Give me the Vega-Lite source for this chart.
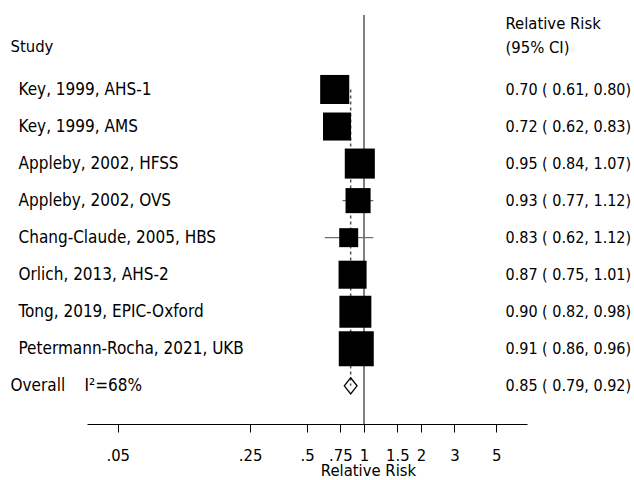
{
  "$schema": "https://vega.github.io/schema/vega-lite/v6.json",
  "width": 440,
  "height": 409,
  "autosize": {"type": "none"},
  "padding": {"left": 87, "top": 15, "right": 107, "bottom": 56},
  "background": "white",
  "config": {
    "view": {"stroke": null},
    "font": "DejaVu Sans Condensed",
    "axis": {
      "labelFont": "DejaVu Sans Condensed",
      "titleFont": "DejaVu Sans Condensed",
      "labelColor": "black",
      "titleColor": "black",
      "titleFontWeight": "normal",
      "grid": false
    }
  },
  "data": {
    "values": [
      {"study": "Key, 1999, AHS-1", "ci": "0.70 ( 0.61, 0.80)", "rr": 0.70, "lo": 0.61, "hi": 0.80, "weight": 12.9, "type": "study"},
      {"study": "Key, 1999, AMS", "ci": "0.72 ( 0.62, 0.83)", "rr": 0.72, "lo": 0.62, "hi": 0.83, "weight": 12.0, "type": "study"},
      {"study": "Appleby, 2002, HFSS", "ci": "0.95 ( 0.84, 1.07)", "rr": 0.95, "lo": 0.84, "hi": 1.07, "weight": 13.8, "type": "study"},
      {"study": "Appleby, 2002, OVS", "ci": "0.93 ( 0.77, 1.12)", "rr": 0.93, "lo": 0.77, "hi": 1.12, "weight": 9.6, "type": "study"},
      {"study": "Chang-Claude, 2005, HBS", "ci": "0.83 ( 0.62, 1.12)", "rr": 0.83, "lo": 0.62, "hi": 1.12, "weight": 5.5, "type": "study"},
      {"study": "Orlich, 2013, AHS-2", "ci": "0.87 ( 0.75, 1.01)", "rr": 0.87, "lo": 0.75, "hi": 1.01, "weight": 12.0, "type": "study"},
      {"study": "Tong, 2019, EPIC-Oxford", "ci": "0.90 ( 0.82, 0.98)", "rr": 0.90, "lo": 0.82, "hi": 0.98, "weight": 15.6, "type": "study"},
      {"study": "Petermann-Rocha, 2021, UKB", "ci": "0.91 ( 0.86, 0.96)", "rr": 0.91, "lo": 0.86, "hi": 0.96, "weight": 18.7, "type": "study"},
      {"study": "Overall\u00a0\u00a0\u00a0\u00a0I²=68%", "ci": "0.85 ( 0.79, 0.92)", "rr": 0.85, "lo": 0.79, "hi": 0.92, "weight": null, "type": "overall"}
    ]
  },
  "layer": [
    {
      "mark": {"type": "rule", "color": "#808080", "strokeWidth": 1.5},
      "encoding": {
        "x": {
          "datum": 1,
          "type": "quantitative",
          "title": "Relative Risk",
          "scale": {"type": "log", "domain": [0.0344, 7.26], "nice": false},
          "axis": {
            "values": [0.05, 0.25, 0.5, 0.75, 1, 1.5, 2, 3, 5],
            "labelExpr": "datum.value < 1 ? replace(toString(datum.value), '0.', '.') : toString(datum.value)",
            "domainColor": "black",
            "domainWidth": 1,
            "tickColor": "black",
            "tickWidth": 1,
            "tickSize": 8,
            "labelFontSize": 16.5,
            "labelBaseline": "alphabetic",
            "labelPadding": 28,
            "labelFlush": false,
            "labelOverlap": false,
            "title": "Relative Risk",
            "titleFontSize": 16.5,
            "titleX": 281,
            "titleY": 51.5,
            "titleBaseline": "alphabetic",
            "titleAlign": "center"
          }
        }
      }
    },
    {
      "encoding": {
        "y": {
          "field": "study",
          "type": "nominal",
          "title": "Study",
          "scale": {
            "type": "point",
            "domain": ["", " ", "Key, 1999, AHS-1", "Key, 1999, AMS", "Appleby, 2002, HFSS", "Appleby, 2002, OVS", "Chang-Claude, 2005, HBS", "Orlich, 2013, AHS-2", "Tong, 2019, EPIC-Oxford", "Petermann-Rocha, 2021, UKB", "Overall\u00a0\u00a0\u00a0\u00a0I²=68%"],
            "padding": 0.52,
            "align": 0.01
          },
          "axis": {
            "orient": "left",
            "title": "Study",
            "titleAngle": 0,
            "titleAlign": "left",
            "titleBaseline": "alphabetic",
            "titleX": -77,
            "titleY": 36.5,
            "titleFontSize": 16.5,
            "labelAlign": "left",
            "labelBaseline": "middle",
            "labelFontSize": 17,
            "labelLimit": 400,
            "labelPadding": {"condition": {"test": "datum.index >= 1", "value": 77}, "value": 69},
            "ticks": false,
            "tickSize": 0,
            "domain": false
          }
        }
      },
      "layer": [
        {
          "transform": [{"filter": "datum.type == 'overall'"}],
          "mark": {"type": "rule", "color": "#555555", "strokeWidth": 1.5, "strokeDash": [3, 3]},
          "encoding": {
            "x": {"field": "rr", "type": "quantitative", "title": "Relative Risk"},
            "y": {"datum": "Key, 1999, AHS-1", "type": "nominal", "title": "Study"},
            "y2": {"field": "study"}
          }
        },
        {
          "transform": [{"filter": "datum.type == 'study'"}],
          "mark": {"type": "rule", "color": "#707070", "strokeWidth": 1.3},
          "encoding": {
            "x": {"field": "lo", "type": "quantitative", "title": "Relative Risk"},
            "x2": {"field": "hi"}
          }
        }
      ]
    },
    {
      "encoding": {
        "y": {
          "field": "ci",
          "type": "nominal",
          "title": "Relative Risk (95% CI)",
          "scale": {
            "type": "point",
            "domain": ["", " ", "0.70 ( 0.61, 0.80)", "0.72 ( 0.62, 0.83)", "0.95 ( 0.84, 1.07)", "0.93 ( 0.77, 1.12)", "0.83 ( 0.62, 1.12)", "0.87 ( 0.75, 1.01)", "0.90 ( 0.82, 0.98)", "0.91 ( 0.86, 0.96)", "0.85 ( 0.79, 0.92)"],
            "padding": 0.52,
            "align": 0.01
          },
          "axis": {
            "orient": "right",
            "title": ["Relative Risk", "(95% CI)"],
            "titleAngle": 0,
            "titleAlign": "left",
            "titleBaseline": "alphabetic",
            "titleX": -22,
            "titleY": 13,
            "titleLineHeight": 24,
            "titleFontSize": 16.5,
            "labelAlign": "left",
            "labelBaseline": "middle",
            "labelFontSize": 16,
            "labelLimit": 400,
            "labelPadding": -22,
            "ticks": false,
            "tickSize": 0,
            "domain": false
          }
        }
      },
      "layer": [
        {
          "transform": [{"filter": "datum.type == 'study'"}],
          "mark": {"type": "point", "shape": "square", "filled": true, "color": "black", "opacity": 1},
          "encoding": {
            "x": {"field": "rr", "type": "quantitative", "title": "Relative Risk"},
            "size": {"field": "weight", "type": "quantitative", "scale": {"domain": [0, 20], "range": [0, 1310]}, "legend": null}
          }
        },
        {
          "transform": [{"filter": "datum.type == 'overall'"}],
          "mark": {"type": "point", "shape": "M-0.8,0L0,-1L0.8,0L0,1Z", "filled": false, "stroke": "black", "strokeWidth": 1.3, "size": 256, "opacity": 1},
          "encoding": {
            "x": {"field": "rr", "type": "quantitative", "title": "Relative Risk"}
          }
        }
      ]
    }
  ],
  "resolve": {"scale": {"y": "independent"}, "axis": {"y": "independent"}}
}
